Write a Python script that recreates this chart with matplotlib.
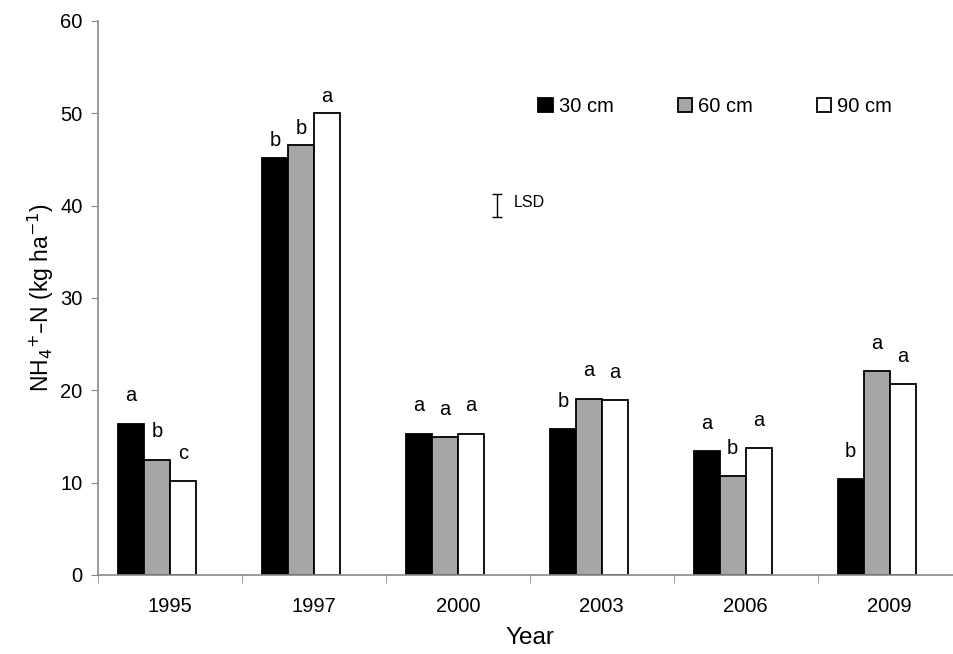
import numpy as np
import matplotlib
matplotlib.use("Agg")
from matplotlib import pyplot as plt

plt.rcParams['font.family'] = ['Liberation Sans', 'DejaVu Sans']

# NH4+-N by sampling year and soil depth
years = ["1995", "1997", "2000", "2003", "2006", "2009"]
depth_30 = [16.4, 45.2, 15.3, 15.8, 13.4, 10.4]
depth_60 = [12.5, 46.6, 14.9, 19.1, 10.7, 22.1]
depth_90 = [10.2, 50.0, 15.3, 18.9, 13.7, 20.7]
letters_30 = ["a", "b", "a", "b", "a", "b"]
letters_60 = ["b", "b", "a", "a", "b", "a"]
letters_90 = ["c", "a", "a", "a", "a", "a"]
depth_names = ["30 cm", "60 cm", "90 cm"]

# least significant difference, shown as one error bar
lsd_value = 40.0
lsd = 2.5
lsd_year = "2000"

series = [depth_30, depth_60, depth_90]
letters = [letters_30, letters_60, letters_90]
colors = ["black", "#a6a6a6", "white"]

fig = plt.figure(figsize=(9.54, 6.54), dpi=100)
ax = fig.add_axes([0.1027, 0.1208, 0.9053, 0.8471])

x = np.arange(len(years))
w = 0.18
for k, (vals, col, name) in enumerate(zip(series, colors, depth_names)):
    pos = x + (k - 1.5) * w
    ax.bar(pos, vals, width=w, color=col, edgecolor="black", linewidth=1.3,
           label=name, zorder=2)
    for i, (p, v, t) in enumerate(zip(pos, vals, letters[k])):
        off = 12 if years[i] == "1997" else 20
        ax.annotate(t, (p, v), xytext=(0, off), textcoords="offset points",
                    ha="center", va="center", fontsize=14.5)

# LSD bar sits in the slot of a fourth (hidden) series
lx = years.index(lsd_year) + 1.5 * w
ax.errorbar(lx, lsd_value, yerr=lsd / 2, fmt="none", ecolor="black",
            elinewidth=1.0, capsize=3.5, capthick=1.0)
ax.text(lx + 0.12, lsd_value + 0.3, "LSD", fontsize=11.5, va="center", ha="left")

ax.set_xlim(-0.5, len(years) - 0.5)
ax.set_ylim(0, 60)
ax.set_yticks(range(0, 61, 10))
ax.set_xticks(x)
ax.set_xticklabels(years)
ax.set_xticks(np.arange(-0.5, len(years), 1.0), minor=True)

for s in ["top", "right"]:
    ax.spines[s].set_visible(False)
for s in ["left", "bottom"]:
    ax.spines[s].set_color("#898989")
    ax.spines[s].set_linewidth(1.2)

ax.tick_params(axis="y", direction="out", length=5, color="#898989",
               labelsize=14.5, pad=6)
ax.tick_params(axis="x", which="major", length=0, labelsize=14.5, pad=16)
ax.tick_params(axis="x", which="minor", direction="out", length=6,
               color="#898989")

ax.set_ylabel("NH$_4$$^{+}$\u2013N (kg ha$^{-1}$)", fontsize=16.5, labelpad=3)
ax.set_xlabel("Year", fontsize=17.5, labelpad=8)

leg = ax.legend(loc="center left", bbox_to_anchor=(0.489, 0.845), ncol=3,
                frameon=False, fontsize=14.5, handlelength=0.7,
                handleheight=0.7, handletextpad=0.3, columnspacing=3.2)

fig.savefig("out.png", dpi=100)
